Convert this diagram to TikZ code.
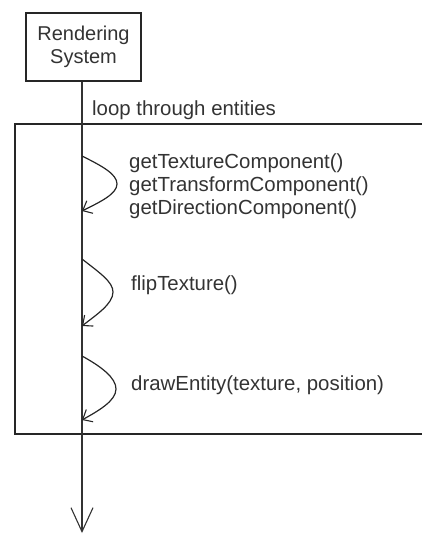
\documentclass[tikz,border=0pt]{standalone}
\usepackage{fontspec}
\setmainfont{Liberation Sans}
\usetikzlibrary{arrows.meta}
\begin{document}
\begin{tikzpicture}[x=1pt,y=-1pt,
  ink/.style={draw=black!85,line width=1.1pt},
  lbl/.style={anchor=west,inner sep=0pt,text=black!80,font=\fontsize{20.4}{23}\selectfont,align=left},
  selfcall/.style={draw=black!85,line width=1.2pt,-{Straight Barb[length=8pt,width=14pt,line width=1.1pt]}},
]
\useasboundingbox (0,0) rectangle (422,536);
% participant
\node[ink,minimum width=115pt,minimum height=68pt,inner sep=0pt,align=center,
      text=black!80,font=\fontsize{20}{23}\selectfont] (rs) at (83.5,47) {Rendering\\System};
% loop frame (right side runs off the picture)
\draw[ink] (422,124) -- (15,124) -- (15,434) -- (422,434);
\node[lbl] (loop) at (92,110) {loop through entities};
% lifeline
\coordinate (end) at (82,533);
\draw[draw=black!80,line width=1.1pt,-{Straight Barb[length=24pt,width=22pt,line width=1.1pt]}] (rs.south -| end) -- (end);
% self-call 1
\coordinate (s1) at (82,156);
\coordinate (e1) at (82,211);
\draw[selfcall] (s1) .. controls (102,166) and (117,174) .. (117,184) .. controls (117,194) and (100,202) .. (e1);
\node[lbl] (t1) at (129,186) {getTextureComponent()\\getTransformComponent()\\getDirectionComponent()};
% self-call 2
\coordinate (s2) at (82,259);
\coordinate (e2) at (82,326);
\draw[selfcall] (s2) .. controls (100,273) and (113,282) .. (113,292) .. controls (113,304) and (96,315) .. (e2);
\node[lbl] (t2) at (131,285) {flipTexture()};
% self-call 3
\coordinate (s3) at (82,356);
\coordinate (e3) at (82,420);
\draw[selfcall] (s3) .. controls (102,367) and (116,378) .. (116,389) .. controls (116,401) and (98,411) .. (e3);
\node[lbl] (t3) at (131,385) {drawEntity(texture, position)};
\end{tikzpicture}
\end{document}
